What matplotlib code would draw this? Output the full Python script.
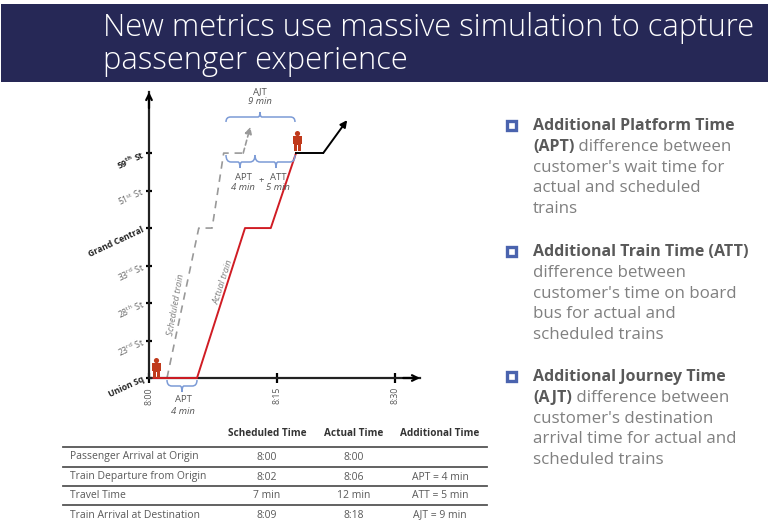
import matplotlib
matplotlib.use('Agg')
import matplotlib.pyplot as plt
from matplotlib.path import Path
from matplotlib.patches import PathPatch, Rectangle, Circle, Polygon
import numpy as np

plt.rcParams['font.family'] = ['Open Sans', 'DejaVu Sans']
plt.rcParams['mathtext.default'] = 'regular'

# data
stations = ['Union Sq', '23$^{rd}$ St', '28$^{th}$ St', '33$^{rd}$ St', 'Grand Central', '51$^{st}$ St', '59$^{th}$ St']
bold_stations = ['Union Sq', 'Grand Central', '59$^{th}$ St']
time_ticks = [0, 15, 30]
time_labels = ['8:00', '8:15', '8:30']

sched_min = [2, 6.2, 7.7, 9, 11.2]
sched_stop = [0, 4, 4, 6, 6]
sched_end_min = [11.2, 12]
sched_end_stop = [6, 6.7]

actual_min = [0.5, 6, 11.4, 14.3, 18]
actual_stop = [0, 0, 4, 4, 6]
after_min = [18, 21.3, 24.2]
after_stop = [6, 6, 6.88]

table_head = ['Scheduled Time', 'Actual Time', 'Additional Time']
table_rows = ['Passenger Arrival at Origin', 'Train Departure from Origin', 'Travel Time', 'Train Arrival at Destination']
table_sched = ['8:00', '8:02', '7 min', '8:09']
table_actual = ['8:00', '8:06', '12 min', '8:18']
table_add = ['', 'APT = 4 min', 'ATT = 5 min', 'AJT = 9 min']

# the time axis of the source slide is not quite even
minute_knots = [0, 2, 6, 15, 18, 30, 33.03]
pixel_knots = [149, 167, 197, 277, 296, 395, 420]

NAVY = '#262856'
GRAY = '#808080'
DARK = '#595959'
BLUE = '#7c9bd6'
RED = '#c03a1c'
BODY = 12.2
TBL = 7.5

fig = plt.figure(figsize=(7.68, 5.28), dpi=100)

# pixel overlay for banner, table and bullets
bg = fig.add_axes([0, 0, 1, 1], zorder=3)
bg.set_xlim(0, 768)
bg.set_ylim(528, 0)
bg.axis('off')
bg.patch.set_alpha(0)

bg.add_patch(Rectangle((1, 4), 767, 78, color=NAVY, lw=0))
bg.text(103, 28, 'New metrics use massive simulation to capture', color='white', fontsize=22.2, va='center', fontweight='light')
bg.text(103, 61, 'passenger experience', color='white', fontsize=22.2, va='center', fontweight='light')

# chart
ax = fig.add_axes([149 / 768, (528 - 378) / 528, (420 - 149) / 768, (378 - 92) / 528], zorder=2)
ax.set_xscale('function', functions=(lambda v: np.interp(v, minute_knots, pixel_knots),
                                     lambda v: np.interp(v, pixel_knots, minute_knots)))
ax.set_xlim(0, 33.03)
ax.set_ylim(0, 7.63)
ax.patch.set_alpha(0)
for s in ['top', 'right']:
    ax.spines[s].set_visible(False)
for s in ['left', 'bottom']:
    ax.spines[s].set_linewidth(1.6)
    ax.spines[s].set_color('#222222')

ax.set_xticks(time_ticks)
ax.set_xticklabels(time_labels, rotation=90, fontsize=6.3, color='#555555')
ax.set_yticks(range(len(stations)))
ax.set_yticklabels(stations, rotation=25, ha='right', rotation_mode='anchor', fontsize=6.2)
for lab in ax.get_yticklabels():
    if lab.get_text() in bold_stations:
        lab.set_fontweight('bold')
        lab.set_color('#222222')
    else:
        lab.set_color('#666666')
ax.tick_params(axis='y', direction='inout', length=4.5, width=1.6, color='black', pad=2)
ax.tick_params(axis='x', direction='inout', length=7, width=1.6, color='black', pad=3)

ax.plot(sched_min, sched_stop, color='#999999', lw=1.2, ls=(0, (4.5, 3.5)), clip_on=False)
ax.plot(actual_min, actual_stop, color='#d01c24', lw=1.4, clip_on=False, zorder=4)
ax.plot(after_min[:2], after_stop[:2], color='black', lw=1.4, clip_on=False, zorder=4)

ax.annotate('', xy=(sched_end_min[1], sched_end_stop[1]), xytext=(sched_end_min[0], sched_end_stop[0]),
            arrowprops=dict(arrowstyle='-|>', color='#999999', lw=1.2, ls=(0, (3, 2)), shrinkA=0, shrinkB=0), annotation_clip=False)
ax.annotate('', xy=(after_min[2], after_stop[2]), xytext=(after_min[1], after_stop[1]),
            arrowprops=dict(arrowstyle='-|>', color='black', lw=1.4, shrinkA=0, shrinkB=0), annotation_clip=False)
# axis arrow heads
ax.annotate('', xy=(0, 7.63), xytext=(0, 7.2), arrowprops=dict(arrowstyle='->', color='black', lw=1.6, shrinkA=0, shrinkB=0), annotation_clip=False)
ax.annotate('', xy=(33.03, 0), xytext=(31, 0), arrowprops=dict(arrowstyle='->', color='black', lw=1.6, shrinkA=0, shrinkB=0), annotation_clip=False)


def brace(x0, x1, y_end, y_mid, y_tip, tip=None):
    # curly bracket in pixel coords
    xm = (x0 + x1) / 2 if tip is None else tip
    r = 3
    d = (y_mid - y_end)
    verts = [(x0, y_end), (x0, y_mid), (x0 + r + abs(d) * .3, y_mid),
             (xm - 2, y_mid), (xm, y_mid), (xm, y_tip),
             (xm, y_mid), (xm + 2, y_mid),
             (x1 - r - abs(d) * .3, y_mid), (x1, y_mid), (x1, y_end)]
    codes = [Path.MOVETO, Path.CURVE3, Path.CURVE3, Path.LINETO, Path.CURVE3, Path.CURVE3,
             Path.CURVE3, Path.CURVE3, Path.LINETO, Path.CURVE3, Path.CURVE3]
    bg.add_patch(PathPatch(Path(verts, codes), fill=False, ec=BLUE, lw=1.1))


def person(cx, top, h, w):
    bg.add_patch(Circle((cx, top + h * .13), h * .13, color=RED, lw=0))
    pts = [(cx - w / 2, top + h * .27), (cx + w / 2, top + h * .27), (cx + w / 2, top + h * .66),
           (cx + w * .34, top + h * .66), (cx + w * .34, top + h), (cx + w * .05, top + h),
           (cx + w * .05, top + h * .68), (cx - w * .05, top + h * .68), (cx - w * .05, top + h),
           (cx - w * .34, top + h), (cx - w * .34, top + h * .66), (cx - w / 2, top + h * .66)]
    bg.add_patch(Polygon(pts, color=RED, lw=0))


brace(226, 295, 122, 117, 112, 260)
brace(226, 255, 155, 162, 168, 240)
brace(255, 295, 155, 162, 168, 276)
brace(167, 197, 380, 386, 392)
person(156.5, 358, 20, 9.5)
person(297.5, 131, 20, 9.5)

small = dict(fontsize=6.8, color='#555555', ha='center', va='center')
ital = dict(small, style='italic')
bg.text(260, 92, 'AJT', **small)
bg.text(260, 102, '9 min', **ital)
bg.text(243, 177, 'APT', **small)
bg.text(243, 188, '4 min', **ital)
bg.text(261, 181, '+', **small)
bg.text(278, 177, 'ATT', **small)
bg.text(278, 188, '5 min', **ital)
bg.text(183, 400, 'APT', **small)
bg.text(183, 411, '4 min', **ital)
bg.text(176, 305, 'Scheduled train', rotation=80, fontsize=6.6, color=GRAY, ha='center', va='center', style='italic')
bg.text(223, 282, 'Actual train', rotation=72, fontsize=6.6, color=GRAY, ha='center', va='center', style='italic')

# table
col_x = [267, 354, 440]
row_y = [457, 477, 496, 515]
line_y = [447, 467, 486, 505]
for x, h in zip(col_x, table_head):
    bg.text(x, 433, h, fontsize=7.2, fontweight='bold', color='#333333', ha='center', va='center')
for i, y in enumerate(row_y):
    bg.text(70, y, table_rows[i], fontsize=TBL, color=DARK, va='center')
    bg.text(col_x[0], y, table_sched[i], fontsize=TBL, color=DARK, ha='center', va='center')
    bg.text(col_x[1], y, table_actual[i], fontsize=TBL, color=DARK, ha='center', va='center')
    bg.text(col_x[2], y, table_add[i], fontsize=TBL, color=DARK, ha='center', va='center')
    bg.plot([63, 487], [line_y[i], line_y[i]], color='#555555', lw=1.3)

# bullets
bullets = [
    (126, ['Additional Platform Time', '(APT)'], ['difference between', "customer's wait time for", 'actual and scheduled', 'trains']),
    (252, ['Additional Train Time (ATT)'], ['difference between', "customer's time on board", 'bus for actual and', 'scheduled trains']),
    (377, ['Additional Journey Time', '(AJT)'], ['difference between', "customer's destination", 'arrival time for actual and', 'scheduled trains']),
]
step = 20.8
for y0, bold, plain in bullets:
    bg.add_patch(Rectangle((506.5, y0 - 5), 9, 9, fc='white', ec='#4a63ae', lw=2.4))
    y = y0
    last = None
    for b in bold:
        last = bg.text(533, y, b, fontsize=11.5, fontweight='bold', color=DARK, va='center')
        y += step
    rest = list(plain)
    if len(bold) == 2:
        y -= step
        bg.annotate(' ' + rest.pop(0), xy=(1, 0), xycoords=last, va='bottom', fontsize=BODY, color=GRAY)
        y += step
    for p in rest:
        bg.text(533, y, p, fontsize=BODY, color=GRAY, va='center')
        y += step

fig.savefig('out.png', dpi=100)
